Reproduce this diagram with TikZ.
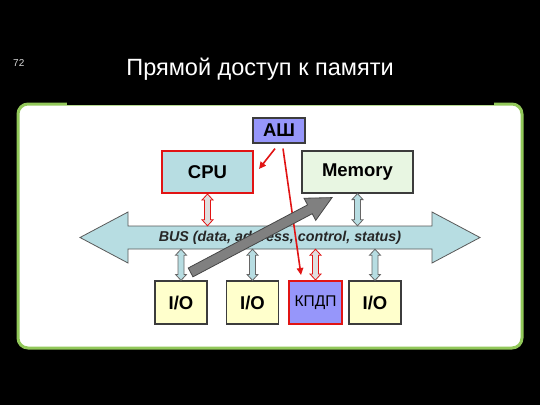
\documentclass[tikz,border=0pt]{standalone}
\usepackage{fontspec}
\setmainfont{Liberation Sans}
\usetikzlibrary{calc,arrows.meta}

\definecolor{panelgreen}{RGB}{146,200,90}
\definecolor{cputeal}{RGB}{183,221,226}
\definecolor{memgreen}{RGB}{232,246,226}
\definecolor{ioyellow}{RGB}{255,255,204}
\definecolor{ashblue}{RGB}{150,150,250}
\definecolor{busred}{RGB}{225,20,20}
\definecolor{edgegray}{RGB}{60,60,60}

\tikzset{
  unitbox/.style={draw=edgegray, line width=1.2pt, inner sep=0pt, font=\bfseries\fontsize{18.5}{20}\selectfont},
  redbox/.style={draw=busred, line width=2pt},
  linkarrow/.style={draw=gray!80!black, fill=cputeal, line width=0.8pt},
  redlink/.style={draw=busred, fill=gray!25, line width=0.8pt},
  redarrow/.style={busred, line width=1.6pt, -{Triangle[length=7pt,width=6.5pt]}}
}

% small two-headed arrow between the bus and a unit
\newcommand{\busarrow}[3]{%
  \path[#1] let \p1=(#2), \p2=(#3) in
    (\x1,\y1) -- (\x1+5.5pt,\y1-6pt) -- (\x1+3pt,\y1-6pt) -- (\x1+3pt,\y2+6pt)
    -- (\x1+5.5pt,\y2+6pt) -- (\x1,\y2) -- (\x1-5.5pt,\y2+6pt) -- (\x1-3pt,\y2+6pt)
    -- (\x1-3pt,\y1-6pt) -- (\x1-5.5pt,\y1-6pt) -- cycle;}

\begin{document}
\begin{tikzpicture}[x=1pt,y=-1pt]
  \fill[black] (0,0) rectangle (540,405);
  \useasboundingbox (0,0) rectangle (540,405);

  \node[text=white!85!black, font=\fontsize{10}{11}\selectfont, anchor=base west, inner sep=0pt] (pagenum) at (13,66) {72};
  \node[text=white, font=\fontsize{23.5}{28}\selectfont, anchor=base] (title) at (260,75) {Прямой доступ к памяти};

  % panel
  \draw[panelgreen, line width=3pt, fill=white, rounded corners=10pt] (18,104) rectangle (522,348);
  \fill[black] (67,100) rectangle (494,105);

  % bus
  \draw[fill=cputeal, draw=gray!70!black, line width=0.8pt] (80,237.5) -- (128,212) -- (128,226) -- (432,226) -- (432,212)
    -- (480,237.5) -- (432,263) -- (432,249) -- (128,249) -- (128,263) -- cycle;
  \node[minimum width=304pt, minimum height=23pt, inner sep=0pt, text=black!85,
    font=\bfseries\itshape\fontsize{14.3}{16}\selectfont] (bus) at (280,237.5) {BUS (data, address, control, status)};

  % units
  \node[unitbox, fill=ashblue, minimum width=52pt, minimum height=25pt] (ash) at (279,130.5) {АШ};
  \node[unitbox, redbox, fill=cputeal, minimum width=91pt, minimum height=42pt] (cpu) at (207.5,172) {CPU};
  \node[unitbox, fill=memgreen, minimum width=111pt, minimum height=42pt] (mem) at (357.5,172) {Memory};
  \foreach \x/\nm in {181/io1, 252.5/io2, 375/io4}
  {
    \node[unitbox, fill=ioyellow, minimum width=52pt, minimum height=43pt] (\nm) at (\x,302.5) {I/O};
  }
  \node[unitbox, redbox, fill=ashblue, minimum width=53pt, minimum height=43pt,
    font=\fontsize{15.5}{17}\selectfont] (kpdp) at (315.5,302.5) {КПДП};

  % links to the bus
  \busarrow{redlink}{cpu.south}{cpu.south |- bus.north}
  \busarrow{linkarrow}{mem.south}{mem.south |- bus.north}
  \foreach \nm in {io1, io2, io4}
  {\busarrow{linkarrow}{\nm.north |- bus.south}{\nm.north}}
  \busarrow{redlink}{kpdp.north |- bus.south}{kpdp.north}

  % control lines
  \draw[redarrow] ($(ash.south)+(-4,5)$) -- ($(cpu.east)+(5,-3)$);
  \draw[redarrow] ($(ash.south)+(4,5)$) -- ($(kpdp.north west)+(13,-5)$);

  % transfer I/O -> memory
  \coordinate (gs) at ($(io1.north east)+(-17,-8)$);
  \coordinate (ge) at ($(mem.south)+(-25.5,4)$);
  \path[draw=gray!55!black, fill=gray, line width=0.8pt]
    let \p1=(gs), \p2=(ge), \n1={atan2(\y2-\y1,\x2-\x1)}, \n2={veclen(\x2-\x1,\y2-\y1)} in
    ($(\p1)+(\n1+90:5pt)$) -- ($(\p1)+(\n1:\n2-25pt)+(\n1+90:5pt)$) -- ($(\p1)+(\n1:\n2-25pt)+(\n1+90:12.5pt)$)
    -- (\p2) -- ($(\p1)+(\n1:\n2-25pt)+(\n1-90:12.5pt)$) -- ($(\p1)+(\n1:\n2-25pt)+(\n1-90:5pt)$)
    -- ($(\p1)+(\n1-90:5pt)$) -- cycle;
\end{tikzpicture}
\end{document}
